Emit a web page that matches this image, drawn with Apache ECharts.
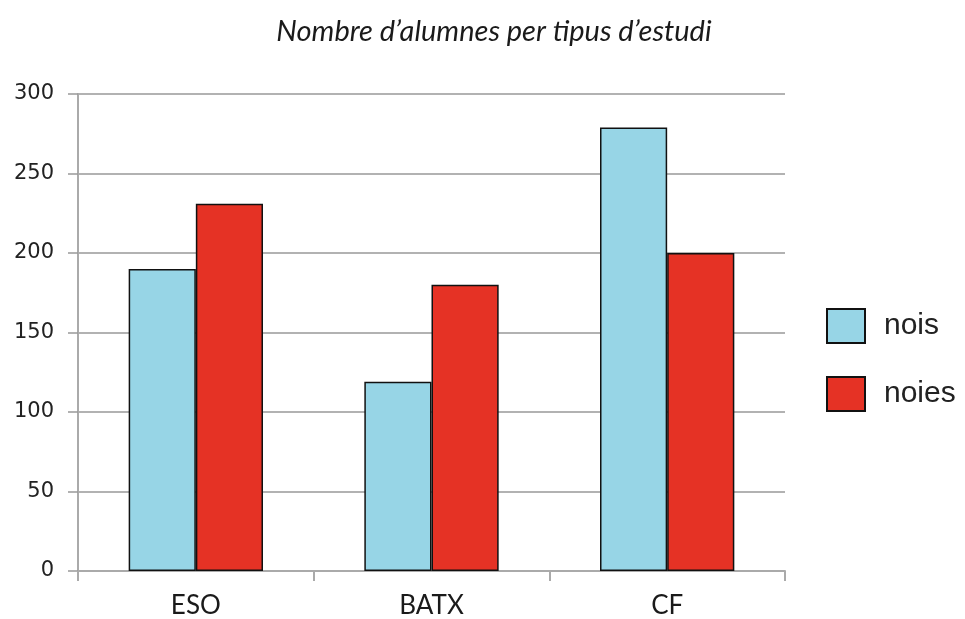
<!DOCTYPE html>
<html>
<head>
<meta charset="utf-8">
<script src="https://cdn.jsdelivr.net/npm/echarts@6/dist/echarts.min.js"></script>
<style>
html,body{margin:0;padding:0;background:#fff;}
#chart{width:965px;height:619px;}
</style>
</head>
<body>
<div id="chart"></div>
<script>
const titleText = "Nombre d\u2019alumnes per tipus d\u2019estudi";
const categories = ["ESO", "BATX", "CF"];
const nois = [190, 119, 279];
const noies = [231, 180, 200];
const yTicks = [0, 50, 100, 150, 200, 250, 300];

const chart = echarts.init(document.getElementById('chart'), null, {renderer: 'canvas'});
chart.setOption({
  animation: false,
  backgroundColor: '#ffffff',
  title: {
    text: titleText,
    left: 489,
    textAlign: 'center',
    top: 12,
    textStyle: {fontFamily: 'Lato', fontStyle: 'italic', fontWeight: 'normal', fontSize: 29, color: '#1a1a1a'}
  },
  legend: {
    orient: 'vertical',
    left: 821,
    top: 303,
    itemWidth: 38,
    itemHeight: 34,
    itemGap: 32,
    icon: 'rect',
    data: ['nois', 'noies'],
    textStyle: {fontFamily: 'Liberation Sans', fontSize: 30, color: '#222', padding: [0, 0, 0, 14]}
  },
  grid: {left: 78, right: 180, top: 94, bottom: 47, containLabel: false},
  xAxis: {
    type: 'category',
    data: categories,
    axisLine: {show: true, lineStyle: {color: '#aaaaaa', width: 2}},
    axisTick: {show: true, length: 10, lineStyle: {color: '#aaaaaa', width: 2}},
    axisLabel: {fontFamily: 'Lato', fontSize: 26, color: '#1a1a1a', margin: 22}
  },
  yAxis: {
    type: 'value',
    min: yTicks[0],
    max: yTicks[yTicks.length - 1],
    interval: 50,
    axisLine: {show: true, lineStyle: {color: '#aaaaaa', width: 2}},
    axisTick: {show: true, length: 10, lineStyle: {color: '#999999', width: 1.5}},
    axisLabel: {fontFamily: 'DejaVu Sans', fontSize: 21, color: '#222', margin: 24},
    splitLine: {show: true, lineStyle: {color: '#999999', width: 1.5}}
  },
  series: [
    {
      name: 'nois', type: 'bar', data: nois,
      barGap: '0%', barCategoryGap: '43%',
      itemStyle: {color: '#97d5e6', borderColor: '#111', borderWidth: 1.5}
    },
    {
      name: 'noies', type: 'bar', data: noies,
      barGap: '0%', barCategoryGap: '43%',
      itemStyle: {color: '#e53225', borderColor: '#111', borderWidth: 1.5}
    }
  ]
});
</script>
</body>
</html>
